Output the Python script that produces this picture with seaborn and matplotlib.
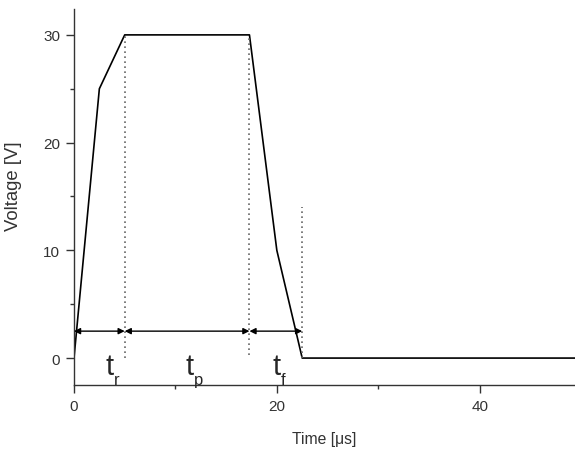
import pandas as pd
import seaborn as sns
import matplotlib.pyplot as plt
from matplotlib.ticker import MultipleLocator

# pulse shape: time in microseconds, voltage in V
zaman = [0, 2.5, 5, 17.3, 20, 22.5, 50]
gerilim = [0, 25, 30, 30, 10, 0, 0]

# phase boundaries (dotted markers) and the tops of the dotted lines
sinirlar = [5, 17.3, 22.5]
sinir_ust = [30, 30, 14]
sinir_alt = [0.0, 0.3, 0.0]
ok_y = 2.5
etiketler = ['r', 'p', 'f']
etiket_x = [3.1, 11.0, 19.6]

df = pd.DataFrame({'Time': zaman, 'Voltage': gerilim})

sns.set_theme(style='ticks')
plt.rcParams['font.family'] = ['Liberation Sans', 'DejaVu Sans']

fig = plt.figure(figsize=(5.75, 4.56), dpi=100)
ax = fig.add_axes([0.1287, 0.1535, 0.8713, 0.8245])

sns.lineplot(data=df, x='Time', y='Voltage', color='black', linewidth=1.2, ax=ax)

for x, ust, alt in zip(sinirlar, sinir_ust, sinir_alt):
    ax.plot([x, x], [alt, ust], color='#666666', linestyle=(0, (1, 2)), linewidth=1.2)

# double-headed arrows between the boundaries
bas = [0] + sinirlar[:-1]
for a, b in zip(bas, sinirlar):
    ax.annotate('', xy=(a, ok_y), xytext=(b, ok_y),
                arrowprops=dict(arrowstyle='<|-|>', color='black', lw=1.0,
                                mutation_scale=9, shrinkA=0, shrinkB=0))

for x, s in zip(etiket_x, etiketler):
    ax.text(x, -0.7, 't', fontsize=21, ha='left', va='center')
    ax.text(x + 0.8, -2.0, s, fontsize=12, ha='left', va='center')

ax.set_xlim(0, 49.4)
ax.set_ylim(-2.5, 32.4)
ax.xaxis.set_major_locator(MultipleLocator(20))
ax.xaxis.set_minor_locator(MultipleLocator(10))
ax.yaxis.set_major_locator(MultipleLocator(10))
ax.yaxis.set_minor_locator(MultipleLocator(5))
ax.tick_params(which='major', length=6, width=1, pad=4, labelsize=11, colors='#333333')
ax.tick_params(which='minor', length=3, width=1, colors='#333333')
ax.set_xlabel('Time [\u03bcs]', fontsize=11.3, color='#333333', labelpad=13)
ax.set_ylabel('Voltage [V]', fontsize=13.3, color='#333333', labelpad=15)
ax.yaxis.label.set_y(0.532)
sns.despine(ax=ax)
for sp in ['left', 'bottom']:
    ax.spines[sp].set_color('#333333')
    ax.spines[sp].set_linewidth(1.0)

fig.savefig('out.png', dpi=100)
